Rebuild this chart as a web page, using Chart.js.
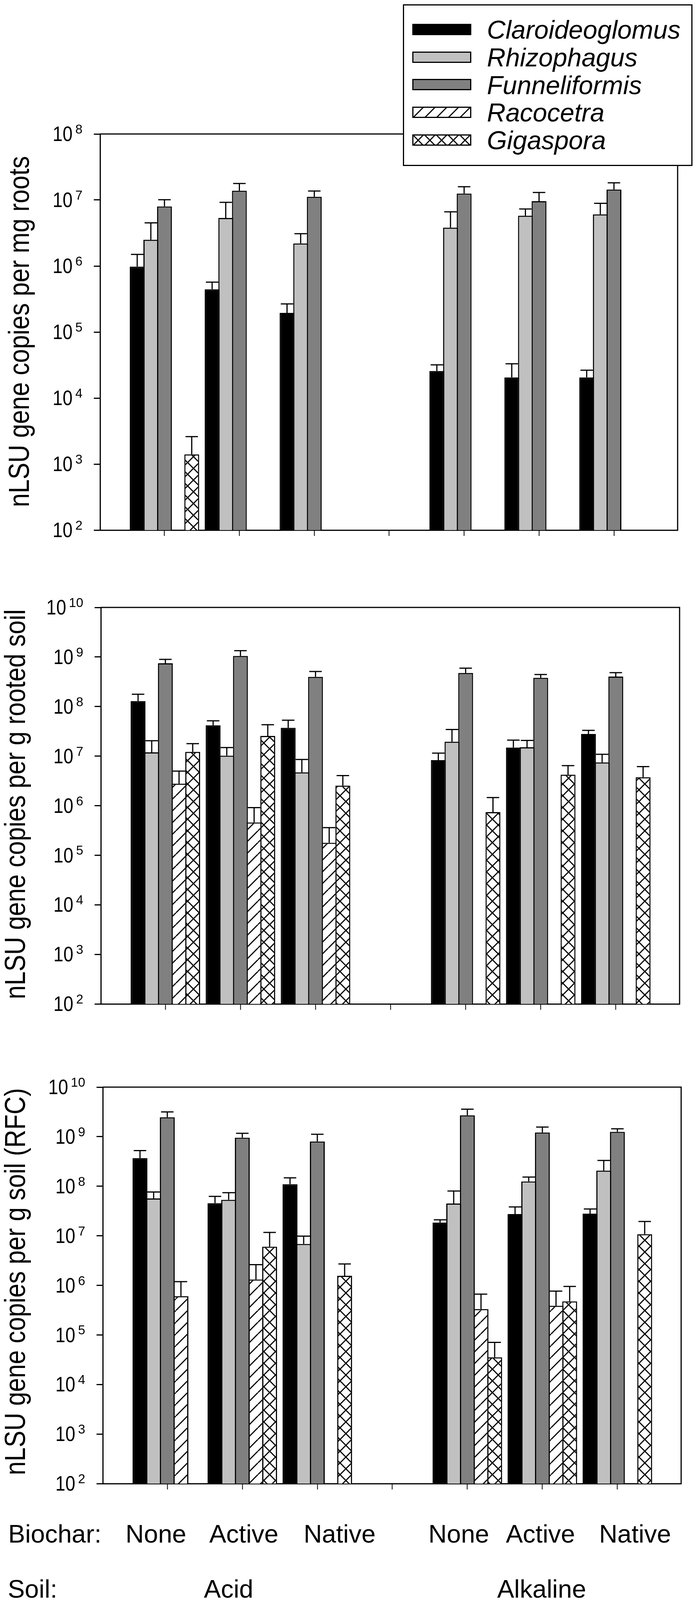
<!DOCTYPE html>
<html>
<head>
<meta charset="utf-8">
<script src="https://cdn.jsdelivr.net/npm/chart.js@4.4.1/dist/chart.umd.min.js"></script>
<style>
  html, body { margin: 0; padding: 0; background: #fff; }
  #page { position: relative; width: 1781px; height: 4269px; overflow: hidden; background: #fff; }
  #page canvas.panel { position: absolute; left: 0; }
  .lbl { position: absolute; font: 65px "Liberation Sans", Arial, sans-serif; line-height: 65px; white-space: nowrap; color: #000; }
  .mid { transform: translateX(-50%); }
  #legend { position: absolute; left: 1031px; width: 741px; box-sizing: border-box;
            border: 3px solid #000; background: #fff; z-index: 2; }
  #legend canvas { position: absolute; left: 21px; }
  #legend span { position: absolute; left: 212px; font: italic 66px "Liberation Sans", Arial, sans-serif; line-height: 66px; white-space: nowrap; }
</style>
</head>
<body>
<div id="page">
  <canvas class="panel" id="roots"></canvas>
  <canvas class="panel" id="soil"></canvas>
  <canvas class="panel" id="rfc"></canvas>
  <div id="legend"></div>
</div>
<script>
// group positions on the x axis (3 = gap between soils)
const positions = [0, 1, 2, 4, 5, 6];
const xTicks = [0, 1, 2, 3, 4, 5, 6];
const biochar = ["None", "Active", "Native", "None", "Active", "Native"];
const biocharX = [399, 624, 869, 1174, 1383, 1625];
const soils = ["Acid", "Alkaline"];
const soilX = [585, 1386];
const genera = ["Claroideoglomus", "Rhizophagus", "Funneliformis", "Racocetra", "Gigaspora"];

// panel 1: per mg roots
const rootsClaro = [9.8e5, 4.45e5, 1.95e5, 2.57e4, 2.05e4, 2.05e4];
const rootsClaroErr = [1.5e6, 5.7e5, 2.67e5, 3.18e4, 3.3e4, 2.64e4];
const rootsRhizo = [2.5e6, 5.35e6, 2.2e6, 3.82e6, 5.77e6, 6.07e6];
const rootsRhizoErr = [4.5e6, 9.2e6, 3.09e6, 6.62e6, 7.3e6, 8.9e6];
const rootsFunnel = [8.0e6, 1.38e7, 1.12e7, 1.25e7, 9.6e6, 1.44e7];
const rootsFunnelErr = [1.01e7, 1.78e7, 1.37e7, 1.59e7, 1.3e7, 1.82e7];
const rootsRaco = [null, null, null, null, null, null];
const rootsRacoErr = [null, null, null, null, null, null];
const rootsGiga = [1.4e3, null, null, null, null, null];
const rootsGigaErr = [2.6e3, null, null, null, null, null];

// panel 2: per g rooted soil
const soilClaro = [1.29e8, 4.19e7, 3.72e7, 8.3e6, 1.49e7, 2.79e7];
const soilClaroErr = [1.77e8, 5.16e7, 5.3e7, 1.15e7, 2.1e7, 3.3e7];
const soilRhizo = [1.19e7, 1.02e7, 4.69e6, 1.95e7, 1.51e7, 7.47e6];
const soilRhizoErr = [2.04e7, 1.49e7, 8.55e6, 3.44e7, 2.07e7, 1.09e7];
const soilFunnel = [7.46e8, 1.05e9, 3.98e8, 4.76e8, 3.8e8, 4.03e8];
const soilFunnelErr = [8.93e8, 1.34e9, 5.1e8, 5.96e8, 4.42e8, 4.83e8];
const soilRaco = [2.77e6, 4.58e5, 1.78e5, null, null, null];
const soilRacoErr = [4.98e6, 9.14e5, 3.6e5, null, null, null];
const soilGiga = [1.22e7, 2.55e7, 2.53e6, 7.4e5, 4.22e6, 3.74e6];
const soilGigaErr = [1.78e7, 4.3e7, 4.04e6, 1.46e6, 6.43e6, 6.14e6];

// panel 3: per g soil (RFC)
const rfcClaro = [3.7e8, 4.55e7, 1.1e8, 1.85e7, 2.74e7, 2.79e7];
const rfcClaroErr = [5.24e8, 6.24e7, 1.48e8, 2.1e7, 3.82e7, 3.47e7];
const rfcRhizo = [5.66e7, 5.32e7, 6.85e6, 4.48e7, 1.25e8, 2.07e8];
const rfcRhizoErr = [7.66e7, 7.41e7, 9.84e6, 8.0e7, 1.53e8, 3.32e8];
const rfcFunnel = [2.46e9, 9.53e8, 8.0e8, 2.7e9, 1.21e9, 1.25e9];
const rfcFunnelErr = [3.16e9, 1.17e9, 1.12e9, 3.59e9, 1.56e9, 1.44e9];
const rfcRaco = [6.04e5, 1.31e6, null, 3.32e5, 3.88e5, null];
const rfcRacoErr = [1.19e6, 2.62e6, null, 6.64e5, 7.66e5, null];
const rfcGiga = [null, 6.04e6, 1.56e6, 3.53e4, 4.76e5, 1.08e7];
const rfcGigaErr = [null, 1.17e7, 2.7e6, 7.06e4, 9.53e5, 1.94e7];

const yTitles = ["nLSU gene copies per mg roots", "nLSU gene copies per g rooted soil", "nLSU gene copies per g soil (RFC)"];
const rootsExps = [2, 3, 4, 5, 6, 7, 8];
const soilExps = [2, 3, 4, 5, 6, 7, 8, 9, 10];

const FONT = '"Liberation Sans", Arial, sans-serif';

// the figure is laid out for 4269px; squeeze vertically if the viewport is shorter
const FIG_H = 4269;
const S = Math.min(1, (window.innerHeight || FIG_H) / FIG_H);
document.getElementById("page").style.height = Math.floor(FIG_H * S) + "px";

function hatch(cross) {
  const c = document.createElement("canvas");
  c.width = 30; c.height = 30;
  const g = c.getContext("2d");
  g.fillStyle = "#fff";
  g.fillRect(0, 0, 30, 30);
  g.strokeStyle = "#000";
  g.lineWidth = 3;
  for (const off of [-30, 0, 30]) {
    g.beginPath(); g.moveTo(off, 30); g.lineTo(off + 30, 0); g.stroke();
    if (cross) { g.beginPath(); g.moveTo(off, 0); g.lineTo(off + 30, 30); g.stroke(); }
  }
  return g.createPattern(c, "repeat");
}

const fills = ["#000000", "#c0c0c0", "#808080", hatch(false), hatch(true)];

// error bars, frame, tick labels and axis title
const panelDecor = {
  id: "panelDecor",
  afterDatasetsDraw(chart) {
    const ctx = chart.ctx, ys = chart.scales.y;
    ctx.save();
    ctx.strokeStyle = "#000";
    ctx.lineWidth = 3;
    chart.data.datasets.forEach((ds, di) => {
      chart.getDatasetMeta(di).data.forEach((bar, i) => {
        const hi = ds.errHi[i];
        if (hi == null || ds.data[i].y == null) return;
        const top = ys.getPixelForValue(hi);
        const half = bar.width / 2 - 3;
        ctx.beginPath();
        ctx.moveTo(bar.x, bar.y);
        ctx.lineTo(bar.x, top);
        ctx.moveTo(bar.x - half, top);
        ctx.lineTo(bar.x + half, top);
        ctx.stroke();
      });
    });
    ctx.restore();
  },
  afterDraw(chart, args, opts) {
    const ctx = chart.ctx, a = chart.chartArea, ys = chart.scales.y;
    ctx.save();
    ctx.strokeStyle = "#000";
    ctx.lineWidth = 3;
    ctx.beginPath();
    ctx.moveTo(a.left, a.top);
    ctx.lineTo(a.right, a.top);
    ctx.lineTo(a.right, a.bottom + 1.5);
    ctx.stroke();

    ctx.fillStyle = "#000";
    ctx.textBaseline = "alphabetic";
    ctx.textAlign = "right";
    const R = a.left - 45;
    ys.ticks.forEach(t => {
      const e = String(Math.round(Math.log10(t.value)));
      const py = ys.getPixelForValue(t.value);
      ctx.font = "33px " + FONT;
      const ew = ctx.measureText(e).width;
      ctx.fillText(e, R, py - 1);
      ctx.font = "55px " + FONT;
      ctx.save();
      ctx.translate(R - ew - 7, py + 19 * S);
      ctx.scale(0.83, S);
      ctx.fillText("10", 0, 0);
      ctx.restore();
    });

    ctx.save();
    ctx.translate(opts.titleX, opts.titleY);
    ctx.rotate(-Math.PI / 2);
    ctx.scale(0.9 * S, 1);
    ctx.font = "74px " + FONT;
    ctx.textAlign = "center";
    ctx.fillText(opts.title, 0, 0);
    ctx.restore();
    ctx.restore();
  }
};

// p.top / p.bottom: plot area edges in figure pixels
function makePanel(id, p) {
  const canvas = document.getElementById(id);
  const cTop = Math.max(0, Math.round((p.top - 61) * S));
  const padTop = Math.round(p.top * S) - cTop;
  const axisH = Math.round(30 * S);
  const cH = Math.round(p.bottom * S) - cTop + axisH;
  canvas.width = 1781;
  canvas.height = cH;
  canvas.style.top = cTop + "px";

  const datasets = genera.map((g, k) => ({
    label: g,
    data: positions.map((x, i) => ({ x: x, y: p.values[k][i] })),
    errHi: p.errors[k],
    backgroundColor: fills[k],
    borderColor: "#000",
    borderWidth: 3,
    borderSkipped: "start",
    categoryPercentage: 0.91,
    barPercentage: 1.0875
  }));

  return new Chart(canvas, {
    type: "bar",
    data: { datasets },
    options: {
      responsive: false,
      animation: false,
      devicePixelRatio: 1,
      layout: { padding: { top: padTop, right: 1781 - p.right, left: 0, bottom: 0 } },
      plugins: {
        legend: { display: false },
        tooltip: { enabled: false },
        panelDecor: { title: p.title, titleX: p.titleX, titleY: Math.round(p.titleY * S) - cTop }
      },
      scales: {
        x: {
          type: "linear",
          min: -0.86,
          max: 6.85,
          offset: false,
          grid: { display: true, offset: false, drawOnChartArea: false, drawTicks: true, tickLength: Math.round(16 * S), tickWidth: 2, tickColor: "#000" },
          border: { display: true, color: "#000", width: 3 },
          ticks: { display: false },
          afterBuildTicks: s => { s.ticks = xTicks.map(v => ({ value: v })); },
          afterFit: s => { s.height = axisH; }
        },
        y: {
          type: "logarithmic",
          min: 100,
          max: Math.pow(10, p.exps[p.exps.length - 1]),
          grid: { display: true, drawOnChartArea: false, drawTicks: true, tickLength: 16, tickWidth: 3, tickColor: "#000" },
          border: { display: true, color: "#000", width: 3 },
          ticks: { display: false },
          afterBuildTicks: s => { s.ticks = p.exps.map(e => ({ value: Math.pow(10, e) })); },
          afterFit: s => { s.width = p.left; }
        }
      }
    },
    plugins: [panelDecor]
  });
}

makePanel("roots", {
  values: [rootsClaro, rootsRhizo, rootsFunnel, rootsRaco, rootsGiga],
  errors: [rootsClaroErr, rootsRhizoErr, rootsFunnelErr, rootsRacoErr, rootsGigaErr],
  exps: rootsExps, top: 357, bottom: 1414, left: 256, right: 1734,
  title: yTitles[0], titleX: 74, titleY: 885
});
makePanel("soil", {
  values: [soilClaro, soilRhizo, soilFunnel, soilRaco, soilGiga],
  errors: [soilClaroErr, soilRhizoErr, soilFunnelErr, soilRacoErr, soilGigaErr],
  exps: soilExps, top: 1621, bottom: 2679, left: 258, right: 1739,
  title: yTitles[1], titleX: 64, titleY: 2146
});
makePanel("rfc", {
  values: [rfcClaro, rfcRhizo, rfcFunnel, rfcRaco, rfcGiga],
  errors: [rfcClaroErr, rfcRhizoErr, rfcFunnelErr, rfcRacoErr, rfcGigaErr],
  exps: soilExps, top: 2901, bottom: 3958, left: 263, right: 1743,
  title: yTitles[2], titleX: 64, titleY: 3420
});

// legend box
const legend = document.getElementById("legend");
legend.style.top = Math.round(11 * S) + "px";
legend.style.height = Math.round(431 * S) + "px";
genera.forEach((g, k) => {
  const cy = (78 + k * 73.8) * S - 11 * S - 3;   // centre inside the legend box
  const sw = document.createElement("canvas");
  sw.width = 151; sw.height = Math.round(30 * S);
  sw.style.top = Math.round(cy - sw.height / 2) + "px";
  const c = sw.getContext("2d");
  c.fillStyle = fills[k];
  c.fillRect(0, 0, sw.width, sw.height);
  c.strokeStyle = "#000";
  c.lineWidth = 3;
  c.strokeRect(1.5, 1.5, sw.width - 3, sw.height - 3);
  legend.appendChild(sw);
  const t = document.createElement("span");
  t.textContent = g;
  t.style.top = Math.round(cy + 23.6 - 56) + "px";
  legend.appendChild(t);
});

// treatment and soil labels under the last panel
const page = document.getElementById("page");
function label(text, x, baseline, centred) {
  const d = document.createElement("div");
  d.className = "lbl" + (centred ? " mid" : "");
  d.textContent = text;
  d.style.left = x + "px";
  d.style.top = Math.round(baseline * S - 55) + "px";
  page.appendChild(d);
}
label("Biochar:", 21, 4116, false);
biochar.forEach((b, i) => label(b, biocharX[i], 4116, true));
label("Soil:", 20, 4263, false);
soils.forEach((s, i) => label(s, soilX[i], 4263, true));
</script>
</body>
</html>
